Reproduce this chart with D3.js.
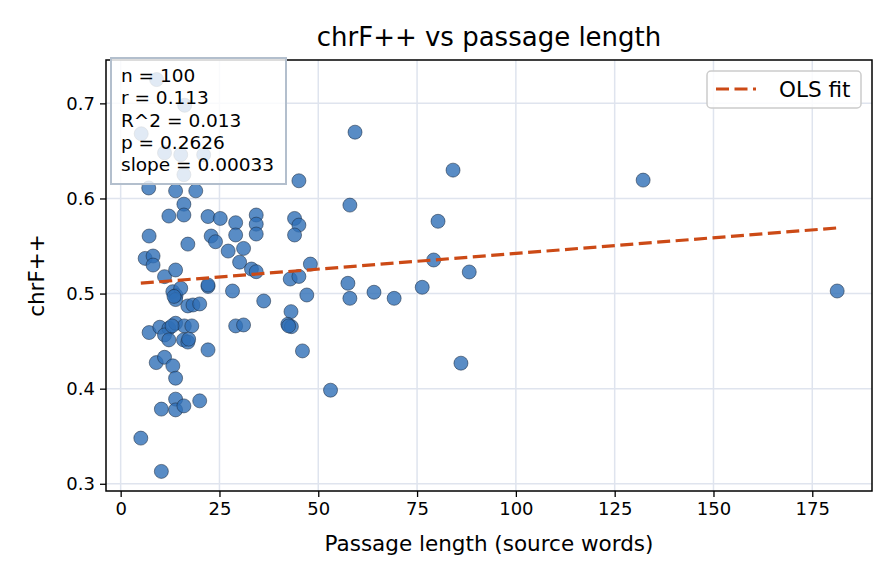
<!DOCTYPE html>
<html>
<head>
<meta charset="utf-8">
<script src="https://cdn.jsdelivr.net/npm/d3@7"></script>
<style>
  html, body { margin: 0; padding: 0; background: #fff; }
  svg { display: block; font-family: "DejaVu Sans", sans-serif; }
</style>
</head>
<body>
<svg id="chart" width="896" height="584"></svg>
<script>
// ---- data ----
const passageLength = [
  9.1, 16.2, 5.2, 11.1, 15.2, 21.0, 16.0, 7.1, 13.9, 19.0,
  16.0, 12.2, 16.0, 22.1, 25.2, 29.1, 34.3, 34.3, 34.3, 29.1,
  44.0, 45.1, 44.0, 7.2, 17.0, 22.9, 24.0, 27.2, 31.1, 30.1,
  33.1, 34.3, 42.9, 45.1, 6.2, 8.2, 8.2, 11.1, 13.9, 13.2,
  14.0, 15.2, 13.9, 22.1, 22.1, 28.3, 36.2, 17.0, 18.3, 20.0,
  43.1, 42.3, 43.2, 29.1, 31.1, 7.2, 9.9, 12.2, 11.1, 13.9,
  16.1, 18.0, 12.2, 15.9, 17.0, 22.1, 9.0, 11.1, 13.2, 13.9,
  13.9, 10.3, 13.9, 16.0, 20.0, 5.1, 10.3, 46.0, 45.1, 48.0,
  47.1, 57.5, 58.0, 58.0, 59.3, 84.1, 80.3, 79.2, 88.2, 64.1,
  69.2, 76.3, 53.1, 86.1, 132.2, 181.3, 13.5, 13.0, 17.2, 42.5
];
const chrfScore = [
  0.725, 0.698, 0.668, 0.648, 0.646, 0.646, 0.625, 0.611, 0.608, 0.608,
  0.594, 0.5815, 0.5826, 0.581, 0.579, 0.5745, 0.5826, 0.573, 0.5626, 0.5616,
  0.579, 0.572, 0.5616, 0.5605, 0.552, 0.5605, 0.5545, 0.5447, 0.5475, 0.533,
  0.5258, 0.523, 0.5153, 0.518, 0.537, 0.5395, 0.530, 0.5178, 0.5248, 0.502,
  0.498, 0.5056, 0.4937, 0.5075, 0.509, 0.5027, 0.4922, 0.487, 0.488, 0.4891,
  0.481, 0.4677, 0.4652, 0.466, 0.467, 0.459, 0.4646, 0.4635, 0.4565, 0.4688,
  0.466, 0.466, 0.4513, 0.4513, 0.449, 0.4408, 0.4274, 0.433, 0.424, 0.411,
  0.389, 0.3785, 0.3777, 0.3819, 0.3872, 0.348, 0.313, 0.4397, 0.6186, 0.531,
  0.4985, 0.5108, 0.495, 0.593, 0.6697, 0.6298, 0.576, 0.5353, 0.5227, 0.5014,
  0.495, 0.5066, 0.3984, 0.4268, 0.6193, 0.5027, 0.497, 0.466, 0.452, 0.466
];
const xTicks = [0, 25, 50, 75, 100, 125, 150, 175];
const yTicks = [0.3, 0.4, 0.5, 0.6, 0.7];
const statsLines = ["n = 100", "r = 0.113", "R^2 = 0.013", "p = 0.2626", "slope = 0.00033"];
const fitSlope = 0.00033;
const fitIntercept = 0.5092;
const titleText = "chrF++ vs passage length";
const xLabel = "Passage length (source words)";
const yLabel = "chrF++";
const legendLabel = "OLS fit";

// ---- layout ----
const svg = d3.select("#chart");
const L = 106, R = 872, T = 60, B = 491;

const xMin = d3.min(passageLength), xMax = d3.max(passageLength);
const yMin = d3.min(chrfScore), yMax = d3.max(chrfScore);
const xPad = (xMax - xMin) * 0.05, yPad = (yMax - yMin) * 0.05;
const x = d3.scaleLinear().domain([xMin - xPad, xMax + xPad]).range([L, R]);
const y = d3.scaleLinear().domain([yMin - yPad, yMax + yPad]).range([B, T]);

// grid
const grid = svg.append("g");
grid.selectAll("line.vx").data(xTicks).enter().append("line")
  .attr("x1", d => x(d)).attr("x2", d => x(d)).attr("y1", T).attr("y2", B)
  .attr("stroke", "#dfe4ee").attr("stroke-width", 1.5);
grid.selectAll("line.hy").data(yTicks).enter().append("line")
  .attr("y1", d => y(d)).attr("y2", d => y(d)).attr("x1", L).attr("x2", R)
  .attr("stroke", "#dfe4ee").attr("stroke-width", 1.5);

// points
const pts = d3.zip(passageLength, chrfScore);
svg.append("g").selectAll("circle").data(pts).enter().append("circle")
  .attr("cx", d => x(d[0])).attr("cy", d => y(d[1])).attr("r", 7)
  .attr("fill", "#2f6fb6").attr("fill-opacity", 0.8)
  .attr("stroke", "#1c2a40").attr("stroke-width", 0.6).attr("stroke-opacity", 0.9);

// OLS line
const lineData = [xMin, xMax].map(v => [v, fitIntercept + fitSlope * v]);
svg.append("path")
  .attr("d", d3.line().x(d => x(d[0])).y(d => y(d[1]))(lineData))
  .attr("fill", "none").attr("stroke", "#cc4a16").attr("stroke-width", 3.2)
  .attr("stroke-dasharray", "13,5.5");

// axes
const xAxis = d3.axisBottom(x).tickValues(xTicks).tickFormat(d3.format("d")).tickSize(6).tickPadding(5);
const yAxis = d3.axisLeft(y).tickValues(yTicks).tickFormat(d3.format(".1f")).tickSize(6).tickPadding(5);
const gx = svg.append("g").attr("transform", `translate(0,${B})`).call(xAxis);
const gy = svg.append("g").attr("transform", `translate(${L},0)`).call(yAxis);
[gx, gy].forEach(g => {
  g.select(".domain").remove();
  g.selectAll(".tick line").attr("stroke", "#000").attr("stroke-width", 1.3);
  g.selectAll(".tick text").attr("fill", "#000").style("font-size", "18px")
    .style("font-family", "DejaVu Sans, sans-serif");
});

// spines
svg.append("rect").attr("x", L).attr("y", T).attr("width", R - L).attr("height", B - T)
  .attr("fill", "none").attr("stroke", "#000").attr("stroke-width", 1.5);

// stats box
const sb = svg.append("g");
sb.append("rect").attr("x", 111).attr("y", 58).attr("width", 175).attr("height", 126)
  .attr("fill", "#fff").attr("fill-opacity", 0.82)
  .attr("stroke", "#b3bfcd").attr("stroke-width", 2);
sb.selectAll("text").data(statsLines).enter().append("text")
  .attr("x", 121).attr("y", (d, i) => 82 + i * 22.3)
  .style("font-size", "18.5px").attr("fill", "#000").text(d => d);

// legend
const lg = svg.append("g");
lg.append("rect").attr("x", 707).attr("y", 71).attr("width", 154).attr("height", 37)
  .attr("rx", 4).attr("fill", "#fff").attr("fill-opacity", 0.85)
  .attr("stroke", "#cccccc").attr("stroke-width", 1.5);
lg.append("line").attr("x1", 716).attr("x2", 756).attr("y1", 89).attr("y2", 89)
  .attr("stroke", "#cc4a16").attr("stroke-width", 3.2).attr("stroke-dasharray", "13,5.5");
lg.append("text").attr("x", 779).attr("y", 97).style("font-size", "21.5px").attr("fill", "#000").text(legendLabel);

// title & labels
svg.append("text").attr("x", (L + R) / 2).attr("y", 46).attr("text-anchor", "middle")
  .style("font-size", "26px").attr("fill", "#000").text(titleText);
svg.append("text").attr("x", (L + R) / 2).attr("y", 551).attr("text-anchor", "middle")
  .style("font-size", "21.5px").attr("fill", "#000").text(xLabel);
svg.append("text").attr("transform", `translate(44,${(T + B) / 2}) rotate(-90)`)
  .attr("text-anchor", "middle").style("font-size", "21.5px").attr("fill", "#000").text(yLabel);
</script>
</body>
</html>
